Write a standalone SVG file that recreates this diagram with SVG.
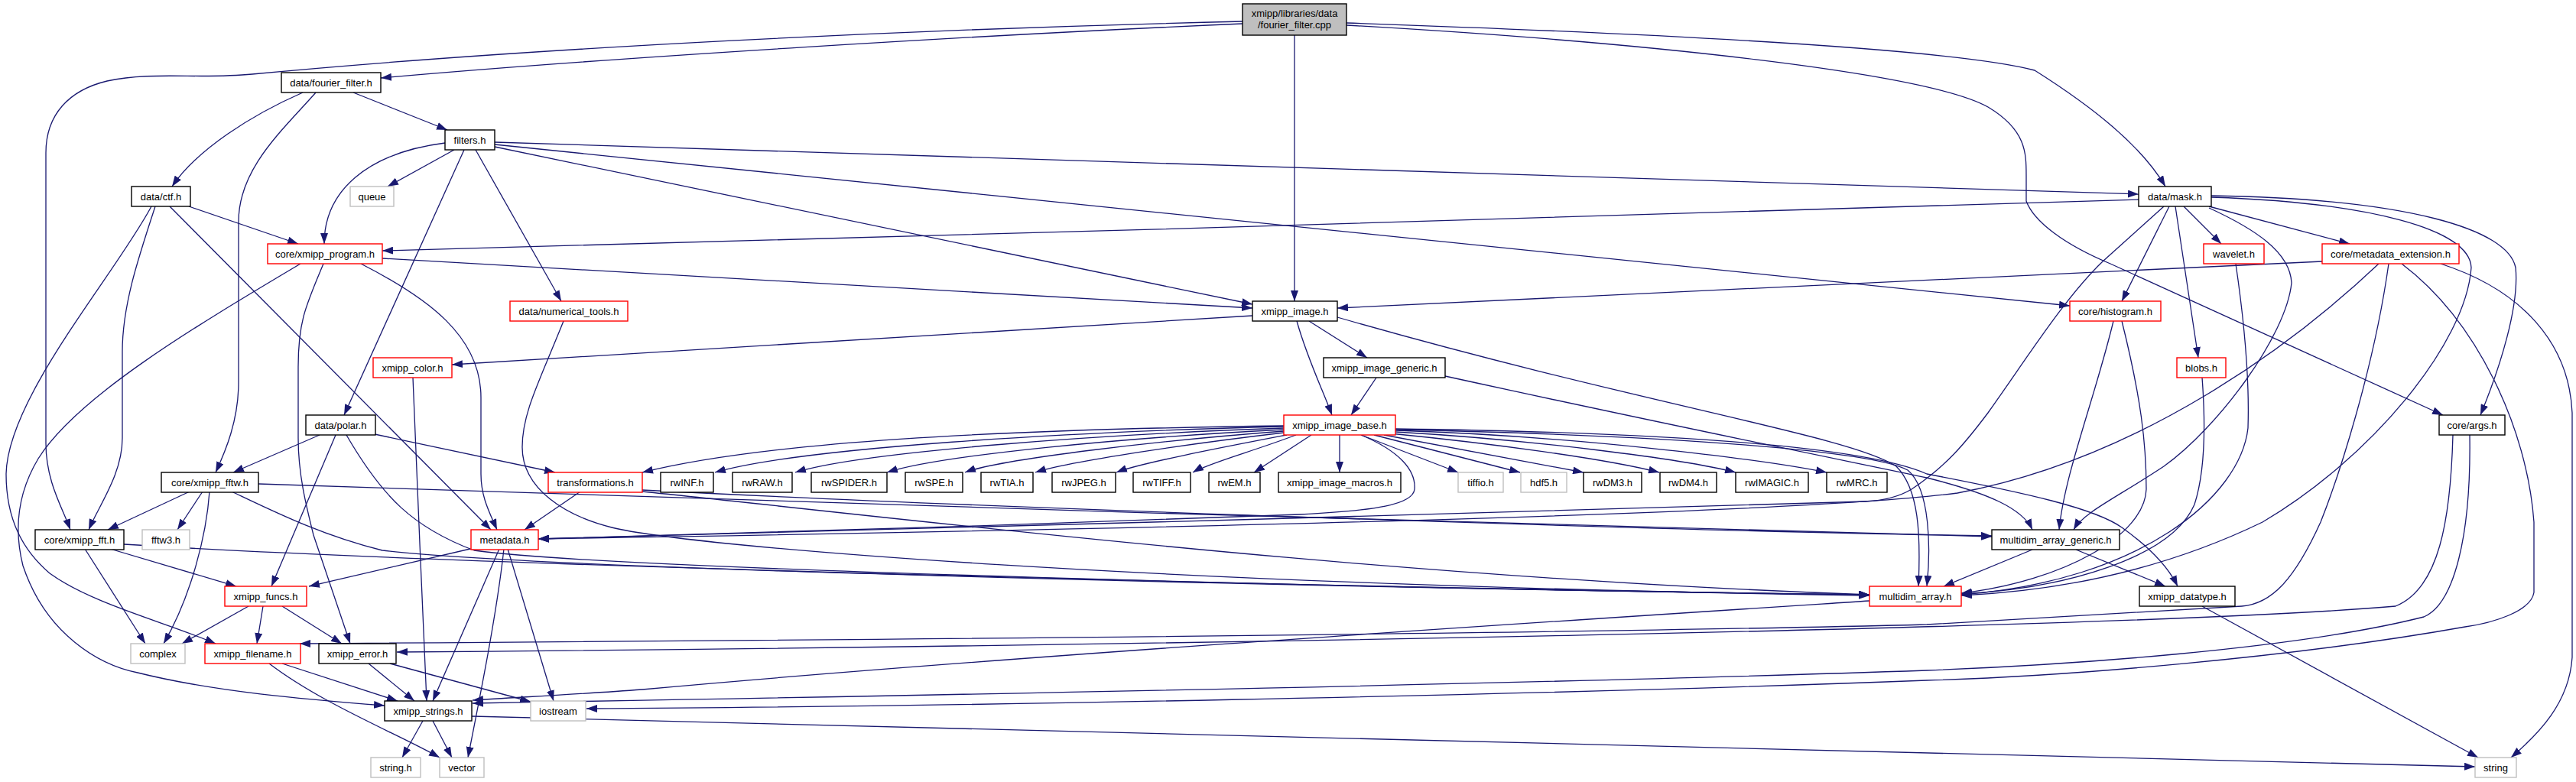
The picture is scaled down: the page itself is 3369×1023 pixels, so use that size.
<svg xmlns="http://www.w3.org/2000/svg" width="3369" height="1023" viewBox="0 0 3369 1023">
<style>
rect{fill:#fff;stroke-width:1.4}
.b rect{stroke:#000}
.r rect{stroke:#ff0000}
.g rect{stroke:#bfbfbf}
.root rect{fill:#bfbfbf;stroke:#000}
text{font-family:"Liberation Sans",Arial,sans-serif;font-size:13px;text-anchor:middle;fill:#000}
#edges path{fill:none;stroke:#191970;stroke-width:1.3;marker-end:url(#a)}
</style>
<defs>
<marker id="a" markerUnits="userSpaceOnUse" markerWidth="14" markerHeight="10" refX="14" refY="5" orient="auto"><path d="M0,0 L14,5 L0,10 z" fill="#191970" stroke="none"/></marker>
</defs>
<rect x="0" y="0" width="3369" height="1023" style="fill:#fff;stroke:none"/>
<g id="edges">
<path d="M1625,31 C1300,45 800,75 498,102"/>
<path d="M1625,28 C1200,38 700,62 330,97 C260,104 200,93 140,106 C90,118 60,150 60,200 L60,580 C60,630 82,665 92,693"/>
<path d="M1693,46 L1693,394"/>
<path d="M1761,30 C2200,45 2560,65 2661,92 C2737,140 2800,190 2832,244"/>
<path d="M1761,33 C2150,55 2520,95 2600,140 C2650,170 2650,200 2650,230 L2650,263 C2660,290 2700,320 2760,345 L3195,543"/>
<path d="M396,121 C330,150 258,195 225,244"/>
<path d="M413,121 C370,170 312,220 312,290 L312,500 C312,550 295,590 282,618"/>
<path d="M462,121 L585,170"/>
<path d="M582,187 C480,200 424,250 424,319"/>
<path d="M594,196 L507,244"/>
<path d="M607,196 L450,543"/>
<path d="M622,196 L734,394"/>
<path d="M647,192 L1638,398"/>
<path d="M647,186 L2797,254"/>
<path d="M647,189 L2707,400"/>
<path d="M247,270 L390,319"/>
<path d="M203,270 C180,340 160,400 160,460 L160,573 C160,620 130,660 116,693"/>
<path d="M222,270 L642,693"/>
<path d="M198,270 C150,360 10,520 8,620 C8,680 30,720 65,750 C120,790 220,815 282,842"/>
<path d="M500,338 L1638,403"/>
<path d="M472,345 C560,390 629,440 629,520 L629,620 C629,650 640,670 650,693"/>
<path d="M423,345 C400,400 390,420 390,480 L390,573 C390,620 400,660 410,700 L458,842"/>
<path d="M393,345 C250,430 100,520 50,600 C20,650 20,700 30,740 C60,830 130,870 180,880 C280,905 400,915 503,923"/>
<path d="M737,420 C705,500 683,540 683,585 C683,640 740,675 800,690 C900,715 1500,765 2445,779"/>
<path d="M540,494 C545,600 552,800 558,917"/>
<path d="M1638,413 L591,477"/>
<path d="M1712,420 L1788,468"/>
<path d="M1696,420 C1710,470 1730,510 1742,543"/>
<path d="M1749,415 C2150,530 2420,570 2480,610 C2510,640 2512,700 2509,767"/>
<path d="M1800,494 L1767,543"/>
<path d="M1890,492 C2200,560 2450,610 2520,625 C2600,645 2645,665 2658,693"/>
<path d="M1679,557 C1300,562 1000,578 840,618"/>
<path d="M1679,558 C1400,565 1050,585 935,618"/>
<path d="M1679,560 C1450,568 1130,590 1040,618"/>
<path d="M1679,562 C1480,572 1230,595 1160,618"/>
<path d="M1679,564 C1520,576 1310,600 1262,618"/>
<path d="M1679,566 C1560,580 1400,603 1354,618"/>
<path d="M1683,569 C1600,585 1490,606 1460,618"/>
<path d="M1695,569 C1640,590 1580,606 1560,618"/>
<path d="M1715,569 L1640,618"/>
<path d="M1752,569 L1752,618"/>
<path d="M1780,569 L1907,618"/>
<path d="M1797,569 L1988,618"/>
<path d="M1810,569 L2071,618"/>
<path d="M1818,567 C1950,580 2100,600 2170,618"/>
<path d="M1825,565 C2000,575 2200,600 2270,618"/>
<path d="M1825,563 C2050,570 2300,600 2389,618"/>
<path d="M1825,561 C2200,566 2440,585 2520,620 C2650,645 2740,665 2775,690 C2810,715 2835,740 2848,767"/>
<path d="M1780,569 C1830,590 1852,615 1850,640 C1848,660 1800,668 1700,673 C1400,685 900,700 704,705"/>
<path d="M1825,562 C2200,570 2450,590 2495,615 C2525,640 2525,720 2520,767"/>
<path d="M248,643 L141,693"/>
<path d="M265,643 L232,693"/>
<path d="M274,643 C270,700 250,780 214,842"/>
<path d="M303,643 C360,670 420,700 500,720 C700,745 1800,770 2445,778"/>
<path d="M338,633 C900,650 2000,690 2605,702"/>
<path d="M418,569 L305,618"/>
<path d="M490,568 L726,618"/>
<path d="M439,569 L355,767"/>
<path d="M453,569 C500,650 540,690 620,720 C800,745 1800,770 2445,778"/>
<path d="M759,643 L686,693"/>
<path d="M840,643 C1200,680 1800,755 2445,778"/>
<path d="M840,641 C1300,665 2200,695 2605,701"/>
<path d="M111,718 L190,842"/>
<path d="M144,718 L309,767"/>
<path d="M162,712 C600,740 1800,770 2445,778"/>
<path d="M615,718 L404,767"/>
<path d="M653,718 L566,917"/>
<path d="M659,718 C650,800 630,900 612,991"/>
<path d="M664,718 L724,917"/>
<path d="M325,793 L238,842"/>
<path d="M344,793 L336,842"/>
<path d="M369,793 L447,842"/>
<path d="M369,868 L520,917"/>
<path d="M352,868 C420,920 520,960 575,991"/>
<path d="M482,868 L542,917"/>
<path d="M510,868 L694,918"/>
<path d="M553,943 L526,991"/>
<path d="M566,943 L591,991"/>
<path d="M617,937 C1000,950 2000,975 3237,1003"/>
<path d="M2658,719 L2542,767"/>
<path d="M2715,719 L2832,767"/>
<path d="M2445,786 C2000,815 1300,860 840,902 C760,908 680,912 618,916"/>
<path d="M2880,793 L3241,991"/>
<path d="M2797,261 C2200,280 1200,310 500,328"/>
<path d="M2837,270 L2775,394"/>
<path d="M2845,270 L2875,468"/>
<path d="M2856,270 L2905,319"/>
<path d="M2889,270 L3073,319"/>
<path d="M2830,270 L2750,342 C2700,390 2650,470 2600,540 C2570,580 2545,610 2500,640 C2480,652 2460,655 2440,656 C2000,670 1000,697 704,705"/>
<path d="M2889,272 C2950,300 2995,330 2997,370 C2990,440 2900,560 2830,610 C2770,650 2725,670 2712,693"/>
<path d="M2892,258 C3100,265 3230,300 3232,350 C3225,450 3100,600 2959,683 C2800,760 2650,775 2565,779"/>
<path d="M2892,256 C3150,260 3280,300 3290,350 C3295,400 3270,480 3244,543"/>
<path d="M2764,420 C2740,520 2700,620 2693,693"/>
<path d="M2775,420 C2800,520 2807,580 2807,640 C2805,700 2700,760 2565,776"/>
<path d="M2880,494 C2885,560 2883,620 2870,660 C2840,730 2700,770 2565,777"/>
<path d="M2924,345 C2935,420 2942,500 2940,560 C2930,650 2800,760 2565,778"/>
<path d="M3037,342 L1749,403"/>
<path d="M3111,345 C3000,450 2800,600 2560,645 C2300,680 1000,700 704,705"/>
<path d="M3124,345 C3105,480 3060,620 3035,683 C3000,760 2970,790 2932,793 L2520,817 C2000,830 1000,838 392,842"/>
<path d="M3141,345 C3240,420 3305,560 3314,683 L3314,775 C3310,800 3260,815 3224,820 C3000,860 2700,885 2520,890 C2000,910 1200,925 767,927"/>
<path d="M3192,345 C3300,380 3360,450 3364,540 L3364,860 C3360,920 3320,960 3284,991"/>
<path d="M3208,569 C3205,680 3190,770 3133,793 C2800,822 1500,845 519,853"/>
<path d="M3230,569 C3232,700 3210,790 3170,807 C3000,850 2700,870 2520,877 C2000,895 1200,910 618,920"/>
</g>
<g id="root" class="root"><rect x="1625" y="5" width="136" height="41"/><text x="1693" y="22">xmipp/libraries/data</text><text x="1693" y="37">/fourier_filter.cpp</text></g>
<g id="fourier_filter_h" class="b"><rect x="368" y="95" width="130" height="26"/><text x="433" y="112.5">data/fourier_filter.h</text></g>
<g id="filters_h" class="b"><rect x="582" y="170" width="65" height="26"/><text x="614.5" y="187.5">filters.h</text></g>
<g id="ctf_h" class="b"><rect x="172" y="244" width="77" height="26"/><text x="210.5" y="261.5">data/ctf.h</text></g>
<g id="queue" class="g"><rect x="458" y="244" width="57" height="26"/><text x="486.5" y="261.5">queue</text></g>
<g id="mask_h" class="b"><rect x="2797" y="244" width="95" height="26"/><text x="2844.5" y="261.5">data/mask.h</text></g>
<g id="xmipp_program_h" class="r"><rect x="350" y="319" width="150" height="26"/><text x="425" y="336.5">core/xmipp_program.h</text></g>
<g id="wavelet_h" class="r"><rect x="2882" y="319" width="79" height="26"/><text x="2921.5" y="336.5">wavelet.h</text></g>
<g id="metadata_extension_h" class="r"><rect x="3037" y="319" width="179" height="26"/><text x="3126.5" y="336.5">core/metadata_extension.h</text></g>
<g id="numerical_tools_h" class="r"><rect x="667" y="394" width="154" height="26"/><text x="744" y="411.5">data/numerical_tools.h</text></g>
<g id="xmipp_image_h" class="b"><rect x="1638" y="394" width="111" height="26"/><text x="1693.5" y="411.5">xmipp_image.h</text></g>
<g id="histogram_h" class="r"><rect x="2707" y="394" width="119" height="26"/><text x="2766.5" y="411.5">core/histogram.h</text></g>
<g id="xmipp_color_h" class="r"><rect x="488" y="468" width="103" height="26"/><text x="539.5" y="485.5">xmipp_color.h</text></g>
<g id="xmipp_image_generic_h" class="b"><rect x="1731" y="468" width="159" height="26"/><text x="1810.5" y="485.5">xmipp_image_generic.h</text></g>
<g id="blobs_h" class="r"><rect x="2847" y="468" width="64" height="26"/><text x="2879" y="485.5">blobs.h</text></g>
<g id="polar_h" class="b"><rect x="400" y="543" width="91" height="26"/><text x="445.5" y="560.5">data/polar.h</text></g>
<g id="xmipp_image_base_h" class="r"><rect x="1679" y="543" width="146" height="26"/><text x="1752" y="560.5">xmipp_image_base.h</text></g>
<g id="args_h" class="b"><rect x="3190" y="543" width="86" height="26"/><text x="3233" y="560.5">core/args.h</text></g>
<g id="xmipp_fftw_h" class="b"><rect x="211" y="618" width="127" height="26"/><text x="274.5" y="635.5">core/xmipp_fftw.h</text></g>
<g id="transformations_h" class="r"><rect x="717" y="618" width="123" height="26"/><text x="778.5" y="635.5">transformations.h</text></g>
<g id="rwINF_h" class="b"><rect x="864" y="618" width="69" height="26"/><text x="898.5" y="635.5">rwINF.h</text></g>
<g id="rwRAW_h" class="b"><rect x="958" y="618" width="78" height="26"/><text x="997" y="635.5">rwRAW.h</text></g>
<g id="rwSPIDER_h" class="b"><rect x="1061" y="618" width="99" height="26"/><text x="1110.5" y="635.5">rwSPIDER.h</text></g>
<g id="rwSPE_h" class="b"><rect x="1184" y="618" width="75" height="26"/><text x="1221.5" y="635.5">rwSPE.h</text></g>
<g id="rwTIA_h" class="b"><rect x="1283" y="618" width="68" height="26"/><text x="1317" y="635.5">rwTIA.h</text></g>
<g id="rwJPEG_h" class="b"><rect x="1376" y="618" width="83" height="26"/><text x="1417.5" y="635.5">rwJPEG.h</text></g>
<g id="rwTIFF_h" class="b"><rect x="1482" y="618" width="75" height="26"/><text x="1519.5" y="635.5">rwTIFF.h</text></g>
<g id="rwEM_h" class="b"><rect x="1581" y="618" width="67" height="26"/><text x="1614.5" y="635.5">rwEM.h</text></g>
<g id="xmipp_image_macros_h" class="b"><rect x="1672" y="618" width="160" height="26"/><text x="1752" y="635.5">xmipp_image_macros.h</text></g>
<g id="tiffio_h" class="g"><rect x="1907" y="618" width="59" height="26"/><text x="1936.5" y="635.5">tiffio.h</text></g>
<g id="hdf5_h" class="g"><rect x="1989" y="618" width="60" height="26"/><text x="2019" y="635.5">hdf5.h</text></g>
<g id="rwDM3_h" class="b"><rect x="2071" y="618" width="76" height="26"/><text x="2109" y="635.5">rwDM3.h</text></g>
<g id="rwDM4_h" class="b"><rect x="2171" y="618" width="74" height="26"/><text x="2208" y="635.5">rwDM4.h</text></g>
<g id="rwIMAGIC_h" class="b"><rect x="2270" y="618" width="95" height="26"/><text x="2317.5" y="635.5">rwIMAGIC.h</text></g>
<g id="rwMRC_h" class="b"><rect x="2389" y="618" width="79" height="26"/><text x="2428.5" y="635.5">rwMRC.h</text></g>
<g id="xmipp_fft_h" class="b"><rect x="46" y="693" width="116" height="26"/><text x="104" y="710.5">core/xmipp_fft.h</text></g>
<g id="fftw3_h" class="g"><rect x="186" y="693" width="62" height="26"/><text x="217" y="710.5">fftw3.h</text></g>
<g id="metadata_h" class="r"><rect x="616" y="693" width="88" height="26"/><text x="660" y="710.5">metadata.h</text></g>
<g id="multidim_array_generic_h" class="b"><rect x="2605" y="693" width="167" height="26"/><text x="2688.5" y="710.5">multidim_array_generic.h</text></g>
<g id="xmipp_funcs_h" class="r"><rect x="294" y="767" width="107" height="26"/><text x="347.5" y="784.5">xmipp_funcs.h</text></g>
<g id="multidim_array_h" class="r"><rect x="2445" y="767" width="120" height="26"/><text x="2505" y="784.5">multidim_array.h</text></g>
<g id="xmipp_datatype_h" class="b"><rect x="2798" y="767" width="125" height="26"/><text x="2860.5" y="784.5">xmipp_datatype.h</text></g>
<g id="complex" class="g"><rect x="171" y="842" width="71" height="26"/><text x="206.5" y="859.5">complex</text></g>
<g id="xmipp_filename_h" class="r"><rect x="268" y="842" width="125" height="26"/><text x="330.5" y="859.5">xmipp_filename.h</text></g>
<g id="xmipp_error_h" class="b"><rect x="417" y="842" width="101" height="26"/><text x="467.5" y="859.5">xmipp_error.h</text></g>
<g id="xmipp_strings_h" class="b"><rect x="503" y="917" width="114" height="26"/><text x="560" y="934.5">xmipp_strings.h</text></g>
<g id="iostream" class="g"><rect x="694" y="917" width="72" height="26"/><text x="730" y="934.5">iostream</text></g>
<g id="string_h" class="g"><rect x="485" y="991" width="65" height="26"/><text x="517.5" y="1008.5">string.h</text></g>
<g id="vector" class="g"><rect x="575" y="991" width="58" height="26"/><text x="604" y="1008.5">vector</text></g>
<g id="string" class="g"><rect x="3237" y="991" width="54" height="26"/><text x="3264" y="1008.5">string</text></g>
</svg>
